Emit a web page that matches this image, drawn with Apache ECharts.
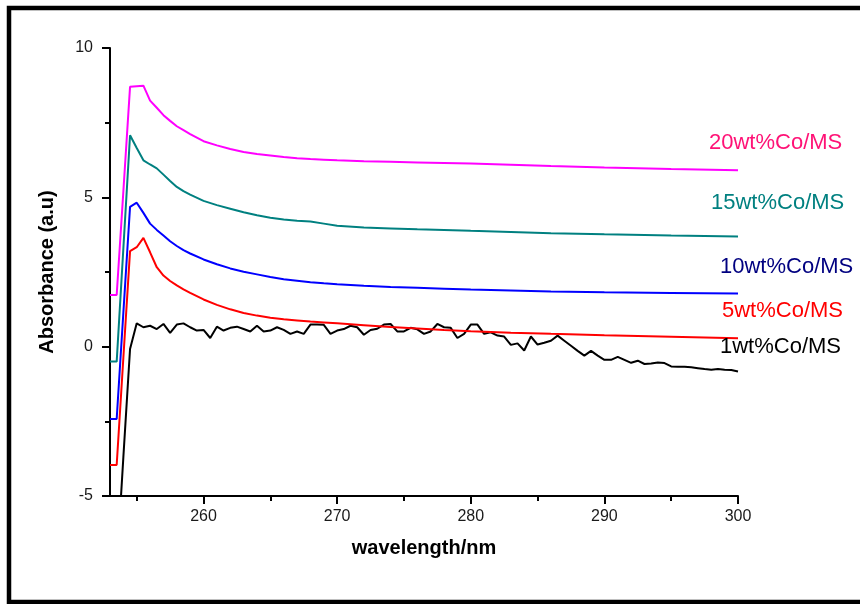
<!DOCTYPE html>
<html>
<head>
<meta charset="utf-8">
<script src="https://cdn.jsdelivr.net/npm/echarts@6/dist/echarts.min.js"></script>
<style>
  html, body { margin: 0; padding: 0; background: #fff; }
  #chart { width: 860px; height: 604px; }
</style>
</head>
<body>
<div id="chart"></div>
<script>
// UV-Vis absorbance spectra of Co/MS samples

// 0.5 nm sampling grid of the 1wt% spectrum
const waveFine = [
  253, 253.5, 254, 254.5, 255, 255.5, 256, 256.5, 257, 257.5,
  258, 258.5, 259, 259.5, 260, 260.5, 261, 261.5, 262, 262.5,
  263, 263.5, 264, 264.5, 265, 265.5, 266, 266.5, 267, 267.5,
  268, 268.5, 269, 269.5, 270, 270.5, 271, 271.5, 272, 272.5,
  273, 273.5, 274, 274.5, 275, 275.5, 276, 276.5, 277, 277.5,
  278, 278.5, 279, 279.5, 280, 280.5, 281, 281.5, 282, 282.5,
  283, 283.5, 284, 284.5, 285, 285.5, 286, 286.5, 287, 287.5,
  288, 288.5, 289, 289.5, 290, 290.5, 291, 291.5, 292, 292.5,
  293, 293.5, 294, 294.5, 295, 295.5, 296, 296.5, 297, 297.5,
  298, 298.5, 299, 299.5, 300
];

const co1 = [
  -7.4, -7.4, -3.7, -0.08, 0.78, 0.65, 0.70, 0.59, 0.76, 0.46,
  0.74, 0.78, 0.65, 0.54, 0.56, 0.29, 0.67, 0.54, 0.63, 0.67,
  0.59, 0.51, 0.70, 0.51, 0.54, 0.65, 0.56, 0.43, 0.51, 0.43,
  0.74, 0.74, 0.73, 0.43, 0.54, 0.59, 0.70, 0.65, 0.40, 0.56,
  0.60, 0.74, 0.76, 0.51, 0.51, 0.63, 0.58, 0.43, 0.51, 0.76,
  0.65, 0.63, 0.29, 0.43, 0.74, 0.74, 0.43, 0.48, 0.37, 0.34,
  0.06, 0.11, -0.13, 0.34, 0.07, 0.13, 0.20, 0.37, 0.20, 0.03,
  -0.14, -0.30, -0.14, -0.30, -0.44, -0.44, -0.34, -0.44, -0.54, -0.47,
  -0.58, -0.56, -0.53, -0.55, -0.66, -0.67, -0.67, -0.69, -0.72, -0.75,
  -0.77, -0.75, -0.77, -0.78, -0.83
];

// sampling grid of the smooth spectra (dense near the edge, sparse in the tail)
const waveSmooth = [
  253, 253.5, 254, 254.5, 255, 255.5, 256, 256.5, 257, 257.5, 258, 258.5, 259,
  260, 261, 262, 263, 264, 265, 266, 267, 268, 269, 270,
  272, 274, 276, 278, 280,
  283, 286, 290, 295, 300
];

const co5 = [
  -3.96, -3.96, -0.37, 3.2, 3.33, 3.64, 3.16, 2.66, 2.38, 2.2, 2.05, 1.92, 1.8,
  1.58, 1.4, 1.25, 1.13, 1.04, 0.97, 0.92, 0.88, 0.84, 0.81, 0.78,
  0.72, 0.66, 0.61, 0.56, 0.52,
  0.47, 0.43, 0.38, 0.33, 0.28
];

const co10 = [
  -2.42, -2.42, 1.14, 4.68, 4.82, 4.48, 4.12, 3.91, 3.72, 3.53, 3.37, 3.23, 3.12,
  2.92, 2.76, 2.62, 2.51, 2.42, 2.33, 2.26, 2.21, 2.16, 2.12, 2.09,
  2.04, 2.0, 1.97, 1.94, 1.91,
  1.88, 1.85, 1.82, 1.80, 1.78
];

const co15 = [
  -0.5, -0.5, 3.29, 7.08, 6.65, 6.24, 6.1, 5.97, 5.76, 5.55, 5.35, 5.21, 5.09,
  4.88, 4.74, 4.62, 4.50, 4.40, 4.32, 4.26, 4.22, 4.19, 4.12, 4.05,
  3.99, 3.96, 3.93, 3.91, 3.88,
  3.84, 3.80, 3.76, 3.72, 3.69
];

const co20 = [
  1.73, 1.73, 5.2, 8.70, 8.72, 8.74, 8.24, 8.0, 7.75, 7.56, 7.38, 7.25, 7.12,
  6.88, 6.74, 6.62, 6.52, 6.45, 6.40, 6.35, 6.31, 6.28, 6.26, 6.24,
  6.21, 6.19, 6.17, 6.15, 6.13,
  6.09, 6.05, 6.0, 5.95, 5.91
];

const xMajorTicks = [260, 270, 280, 290, 300];
const xMinorTicks = [255, 265, 275, 285, 295];

const seriesNames = ['1wt%Co/MS', '5wt%Co/MS', '10wt%Co/MS', '15wt%Co/MS', '20wt%Co/MS'];

const FONT = '"Liberation Sans", Arial, sans-serif';

function pairs(xs, ys) {
  return xs.map((x, i) => [x, ys[i]]);
}

function lineSeries(name, xs, ys, color) {
  return {
    name: name,
    type: 'line',
    xAxisIndex: 0,
    yAxisIndex: 0,
    data: pairs(xs, ys),
    showSymbol: false,
    symbol: 'none',
    clip: true,
    lineStyle: { color: color, width: 2 },
    itemStyle: { color: color },
    z: 3
  };
}

function curveLabel(text, left, top, color) {
  return {
    type: 'text',
    left: left,
    top: top,
    style: {
      text: text,
      fill: color,
      font: 'normal 22px ' + FONT
    },
    z: 10
  };
}

const chart = echarts.init(document.getElementById('chart'), null, { renderer: 'canvas' });

chart.setOption({
  animation: false,
  backgroundColor: '#ffffff',
  grid: { left: 110, right: 122, top: 48, bottom: 108 },
  xAxis: [
    {
      type: 'value',
      min: 253,
      max: 300,
      name: 'wavelength/nm',
      nameLocation: 'middle',
      nameGap: 42,
      nameTextStyle: { fontFamily: FONT, fontSize: 20, fontWeight: 'bold', color: '#000' },
      axisLine: { show: true, onZero: false, lineStyle: { color: '#000', width: 2 } },
      axisTick: {
        show: true, inside: false, length: 8,
        customValues: xMajorTicks,
        lineStyle: { color: '#000', width: 2 }
      },
      axisLabel: {
        show: true, margin: 13,
        customValues: xMajorTicks,
        fontFamily: FONT, fontSize: 16, color: '#1a1a1a'
      },
      splitLine: { show: false }
    },
    {
      // short ticks half-way between the labelled ones
      type: 'value',
      min: 253,
      max: 300,
      position: 'bottom',
      axisLine: { show: false, onZero: false },
      axisTick: {
        show: true, inside: false, length: 5,
        customValues: xMinorTicks,
        lineStyle: { color: '#000', width: 2 }
      },
      axisLabel: { show: false },
      splitLine: { show: false }
    }
  ],
  yAxis: {
    type: 'value',
    min: -5,
    max: 10,
    interval: 5,
    name: 'Absorbance (a.u)',
    nameLocation: 'middle',
    nameGap: 53,
    nameTextStyle: { fontFamily: FONT, fontSize: 20, fontWeight: 'bold', color: '#000' },
    axisLine: { show: true, onZero: false, lineStyle: { color: '#000', width: 2 } },
    axisTick: { show: true, inside: false, length: 8, lineStyle: { color: '#000', width: 2 } },
    minorTick: { show: true, splitNumber: 2, length: 5, lineStyle: { color: '#000', width: 2 } },
    axisLabel: { margin: 17, fontFamily: FONT, fontSize: 16, color: '#1a1a1a' },
    splitLine: { show: false },
    minorSplitLine: { show: false }
  },
  series: [
    lineSeries(seriesNames[0], waveFine, co1, '#000000'),
    lineSeries(seriesNames[1], waveSmooth, co5, '#ff0000'),
    lineSeries(seriesNames[2], waveSmooth, co10, '#0000ff'),
    lineSeries(seriesNames[3], waveSmooth, co15, '#008080'),
    lineSeries(seriesNames[4], waveSmooth, co20, '#ff00ff')
  ],
  graphic: [
    {
      // outer frame
      type: 'rect',
      shape: { x: 9, y: 8, width: 880, height: 594 },
      style: { fill: 'none', stroke: '#000', lineWidth: 4.5 },
      silent: true,
      z: 20
    },
    curveLabel(seriesNames[4], 709, 132, '#ff1276'),
    curveLabel(seriesNames[3], 711, 192, '#008080'),
    curveLabel(seriesNames[2], 720, 256, '#000080'),
    curveLabel(seriesNames[1], 722, 300, '#ff0000'),
    curveLabel(seriesNames[0], 720, 336, '#000000')
  ]
});
</script>
</body>
</html>
